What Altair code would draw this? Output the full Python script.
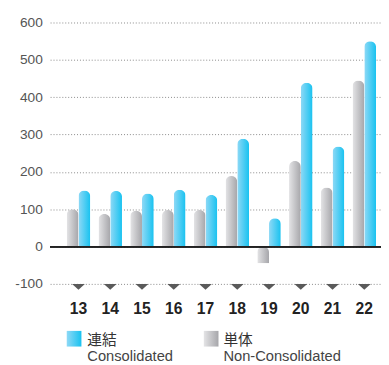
import altair as alt
import pandas as pd

years = ["13", "14", "15", "16", "17", "18", "19", "20", "21", "22"]
consolidated = [150, 149, 142, 152, 138, 289, 76, 439, 268, 550]
non_consolidated = [100, 87, 96, 98, 98, 189, -45, 229, 158, 445]
series_keys = ["non", "con"]
legend_jp = {"con": "連結", "non": "単体"}
legend_en = {"con": "Consolidated", "non": "Non-Consolidated"}
y_ticks = [-100, 0, 100, 200, 300, 400, 500, 600]

rows = []
for i, y in enumerate(years):
    rows.append({"year": y, "series": "non", "value": non_consolidated[i]})
    rows.append({"year": y, "series": "con", "value": consolidated[i]})
df = pd.DataFrame(rows)
cats = pd.DataFrame({"year": years})

blue_grad = {"gradient": "linear", "x1": 0, "x2": 1, "y1": 0, "y2": 0,
             "stops": [{"offset": 0, "color": "#8fd9f6"}, {"offset": 1, "color": "#18c2f0"}]}
gray_grad = {"gradient": "linear", "x1": 0, "x2": 1, "y1": 0, "y2": 0,
             "stops": [{"offset": 0, "color": "#e4e4e6"}, {"offset": 1, "color": "#a6a6aa"}]}

LAT = "Liberation Sans"
CJK = "Noto Sans CJK JP"

xscale = alt.Scale(paddingInner=0.26, paddingOuter=0.34, align=0.77)
yscale = alt.Scale(domain=[-100, 600], nice=False, zero=False)

y_axis = alt.Axis(title=None, values=y_ticks, labelExpr="'' + datum.value")
x_axis = alt.Axis(title=None, labelAngle=0)

bars = alt.Chart(df).mark_bar(cornerRadiusEnd=6).encode(
    x=alt.X("year:N", scale=xscale, sort=years, axis=x_axis),
    xOffset=alt.XOffset("series:N", scale=alt.Scale(domain=series_keys, paddingInner=0, paddingOuter=0)),
    y=alt.Y("value:Q", scale=yscale, axis=y_axis),
    fill=alt.condition("datum.series == 'con'", alt.value(blue_grad), alt.value(gray_grad)),
)

zero = alt.Chart(cats).mark_rule(color="#222", strokeWidth=1.2).encode(
    y=alt.Y(datum=0, scale=yscale, axis=y_axis))

tri = alt.Chart(cats).mark_point(
    shape="M-1,-0.45L1,-0.45L0,0.45Z", filled=True, opacity=1, color="#5a5a5a", size=170, yOffset=3
).encode(x=alt.X("year:N", sort=years, scale=xscale, axis=x_axis),
         y=alt.Y(datum=-100, scale=yscale, axis=y_axis))

def rect(x, fill):
    return alt.Chart(cats.head(1)).mark_rect(fill=fill).encode(
        x=alt.value(x), x2=alt.value(x + 15), y=alt.value(315), y2=alt.value(331))

def txt(x, y, t, font, size, color, baseline):
    return alt.Chart(pd.DataFrame({"t": [t]})).mark_text(
        font=font, fontSize=size, color=color, align="left", baseline=baseline
    ).encode(x=alt.value(x), y=alt.value(y), text="t:N")

legend = [
    rect(17, blue_grad),
    txt(38, 324, legend_jp["con"], CJK, 15, "#333", "middle"),
    txt(38, 346, legend_en["con"], LAT, 15, "#444", "alphabetic"),
    rect(157, gray_grad),
    txt(177, 324, legend_jp["non"], CJK, 15, "#333", "middle"),
    txt(177, 346, legend_en["non"], LAT, 15, "#444", "alphabetic"),
]

chart = alt.layer(bars, zero, tri, *legend).properties(
    width=338, height=267,
    autosize=alt.AutoSizeParams(type="none"),
    padding={"left": 43, "top": 11, "right": 0, "bottom": 78},
).configure_view(stroke=None).configure_axisY(
    grid=True, gridDash=[1, 2], gridColor="#888", gridWidth=1, domain=False, ticks=False,
    labelPadding=8, labelFontSize=14, labelColor="#555", labelFont=LAT,
    labelOverlap=False, labelFlush=False,
).configure_axisX(
    grid=False, domain=False, ticks=False, labelPadding=17, labelFontSize=16,
    labelFontWeight="bold", labelColor="#222", labelFont=LAT,
)

chart.save("out.html", embed_options={"renderer": "svg", "actions": False})
